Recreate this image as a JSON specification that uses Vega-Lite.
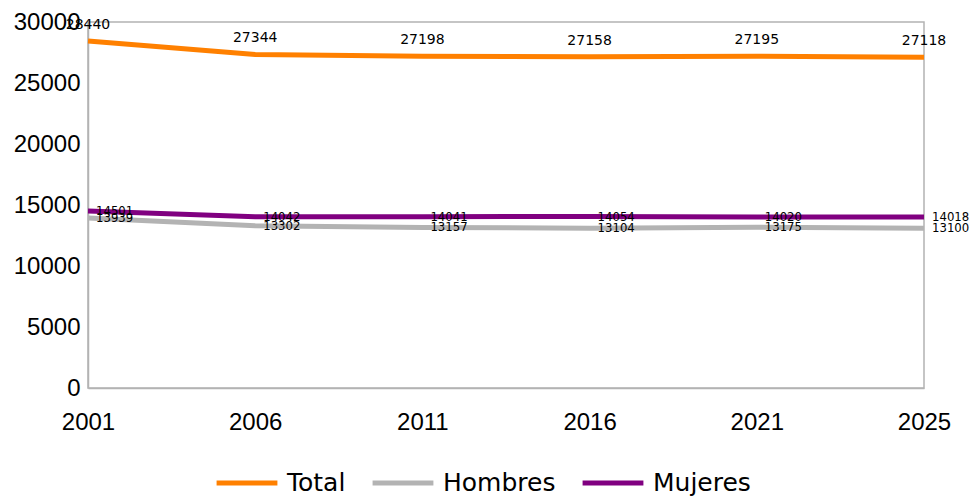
{
  "$schema": "https://vega.github.io/schema/vega-lite/v6.json",
  "autosize": {"type": "none"},
  "width": 836,
  "height": 366,
  "padding": {"left": 88, "top": 22, "right": 50, "bottom": 108},
  "background": "white",
  "config": {
    "view": {"stroke": "#b3b3b3", "strokeWidth": 1.5},
    "axis": {"grid": false, "domainColor": "#b3b3b3", "domainWidth": 1.5, "ticks": false, "labelFont": "Liberation Sans", "labelFontSize": 24, "labelColor": "#000", "title": null}
  },
  "data": {
    "values": [
      {"year": "2001", "serie": "Total", "value": 28440},
      {"year": "2006", "serie": "Total", "value": 27344},
      {"year": "2011", "serie": "Total", "value": 27198},
      {"year": "2016", "serie": "Total", "value": 27158},
      {"year": "2021", "serie": "Total", "value": 27195},
      {"year": "2025", "serie": "Total", "value": 27118},
      {"year": "2001", "serie": "Hombres", "value": 13939},
      {"year": "2006", "serie": "Hombres", "value": 13302},
      {"year": "2011", "serie": "Hombres", "value": 13157},
      {"year": "2016", "serie": "Hombres", "value": 13104},
      {"year": "2021", "serie": "Hombres", "value": 13175},
      {"year": "2025", "serie": "Hombres", "value": 13100},
      {"year": "2001", "serie": "Mujeres", "value": 14501},
      {"year": "2006", "serie": "Mujeres", "value": 14042},
      {"year": "2011", "serie": "Mujeres", "value": 14041},
      {"year": "2016", "serie": "Mujeres", "value": 14054},
      {"year": "2021", "serie": "Mujeres", "value": 14020},
      {"year": "2025", "serie": "Mujeres", "value": 14018}
    ]
  },
  "encoding": {
    "x": {"field": "year", "type": "ordinal", "scale": {"type": "point", "padding": 0}, "axis": {"labelAngle": 0, "labelPadding": 22}},
    "y": {"field": "value", "type": "quantitative", "scale": {"domain": [0, 30000]}, "axis": {"values": [0, 5000, 10000, 15000, 20000, 25000, 30000], "format": "d", "labelPadding": 8}}
  },
  "layer": [
    {
      "mark": {"type": "line", "strokeWidth": 5},
      "encoding": {
        "color": {
          "field": "serie", "type": "nominal",
          "scale": {"domain": ["Total", "Hombres", "Mujeres"], "range": ["#ff8000", "#b3b3b3", "#800080"]},
          "legend": {
            "title": null, "orient": "none", "direction": "horizontal",
            "legendX": 126, "legendY": 428,
            "symbolType": "stroke", "symbolSize": 3700, "symbolStrokeWidth": 5,
            "labelFont": "DejaVu Sans", "labelFontSize": 25, "labelColor": "#000",
            "labelOffset": 7, "columnPadding": 16
          }
        }
      }
    },
    {
      "transform": [{"filter": "datum.serie === 'Total'"}],
      "mark": {"type": "text", "font": "DejaVu Sans", "fontSize": 14, "dy": -16, "align": "center", "baseline": "middle", "color": "#000"},
      "encoding": {"text": {"field": "value", "type": "quantitative", "format": "d"}}
    },
    {
      "transform": [{"filter": "datum.serie !== 'Total'"}],
      "mark": {"type": "text", "font": "DejaVu Sans Condensed", "fontSize": 13, "dx": 8, "align": "left", "baseline": "middle", "color": "#000"},
      "encoding": {"text": {"field": "value", "type": "quantitative", "format": "d"}}
    }
  ]
}
